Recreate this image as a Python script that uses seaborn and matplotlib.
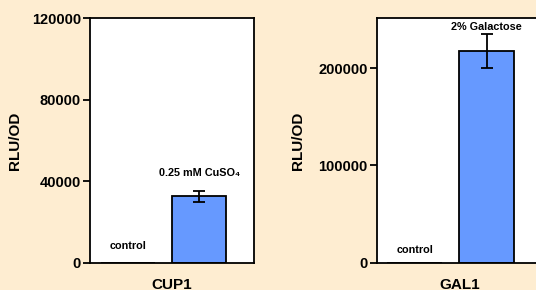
import matplotlib
matplotlib.use("Agg")
import matplotlib.pyplot as plt
import seaborn as sns
import pandas as pd
import numpy as np

# ---- data ----
conditions = ["control", "induced"]
cup1_labels = ["control", "0.25 mM CuSO₄"]
cup1_means = [0, 32800]
cup1_err = [0, 2700]
gal1_labels = ["control", "2% Galactose"]
gal1_means = [0, 218000]
gal1_err = [0, 17500]
cup1_ticks = [0, 40000, 80000, 120000]
gal1_ticks = [0, 100000, 200000]

sns.set_style("white")
plt.rcParams['font.family'] = ['Liberation Sans', 'DejaVu Sans']
plt.rcParams['font.weight'] = 'bold'
plt.rcParams['text.color'] = 'black'
plt.rcParams['axes.labelcolor'] = 'black'
plt.rcParams['xtick.color'] = 'black'
plt.rcParams['ytick.color'] = 'black'

BG = "#FEEDD1"
BAR = "#6699FF"

fig = plt.figure(figsize=(5.36, 2.90), dpi=100, facecolor=BG)
ax1 = fig.add_axes([90/536, 27/290, 164/536, 245/290])
ax2 = fig.add_axes([376.7/536, 27.3/290, 165.3/536, 244.4/290])


def panel(ax, labels, means, err, ticks, ylim, xlabel, label_ys):
    df = pd.DataFrame({"cond": conditions, "val": means})
    sns.barplot(data=df, x="cond", y="val", ax=ax, color=BAR, saturation=1,
                width=0.76, edgecolor="black", linewidth=1.3, errorbar=None)
    m = np.array(err) > 0
    xs = np.arange(len(means))[m]
    ax.errorbar(xs, np.array(means)[m], yerr=np.array(err)[m], fmt="none",
                ecolor="black", elinewidth=1.3, capsize=4, capthick=1.3, zorder=5)
    ax.set_xlim(-0.53, 1.77)
    ax.set_ylim(*ylim)
    ax.set_yticks(ticks)
    ax.set_yticklabels([str(t) for t in ticks], fontsize=10.5, fontweight='bold',
                       color='black')
    ax.set_xticks([])
    ax.set_xlabel(xlabel, fontsize=11, fontweight='bold', color='black')
    ax.set_ylabel("RLU/OD", fontsize=11, fontweight='bold', color='black')
    ax.tick_params(axis='y', left=True, length=5, width=1.3, pad=1.5, color="black")
    for s in ax.spines.values():
        s.set_visible(True)
        s.set_color("black")
        s.set_linewidth(1.3)
    ax.set_facecolor("white")
    for i, (lab, y) in enumerate(zip(labels, label_ys)):
        ax.text(i, y, lab, ha='center', va='center', fontsize=7.8,
                fontweight='bold', color='black')


panel(ax1, cup1_labels, cup1_means, cup1_err, cup1_ticks, (0, 120000), "CUP1",
      [8300, 44000])
panel(ax2, gal1_labels, gal1_means, gal1_err, gal1_ticks, (0, 251400), "GAL1",
      [13000, 242800])

ax1.yaxis.set_label_coords(-0.415, 0.5)
ax2.yaxis.set_label_coords(-0.434, 0.5)
ax1.xaxis.set_label_coords(0.5, -0.062)
ax2.xaxis.set_label_coords(0.5, -0.062)

fig.savefig("out.png", dpi=100, facecolor=BG)
